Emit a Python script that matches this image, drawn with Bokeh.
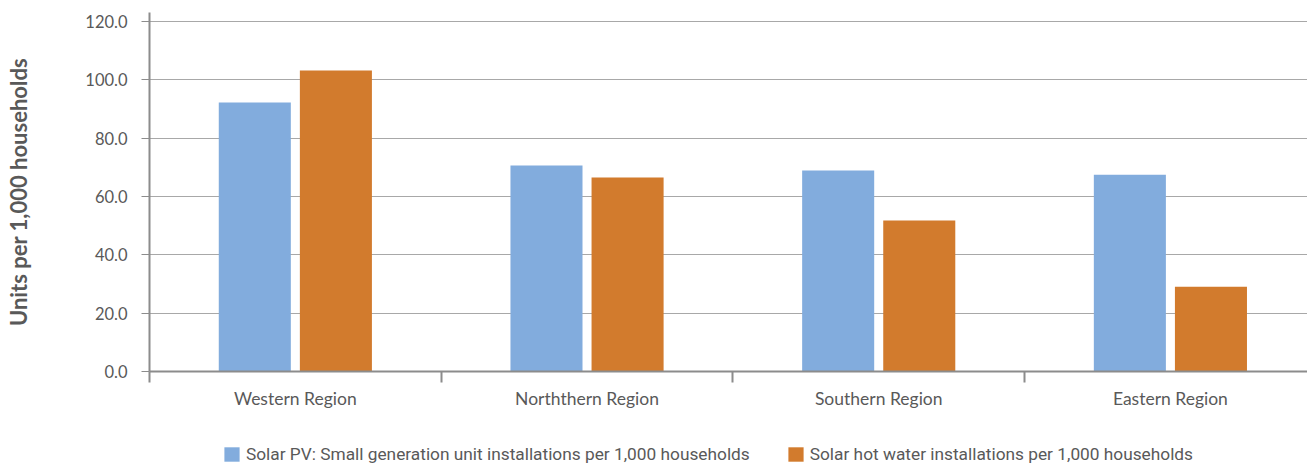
from bokeh.plotting import figure
from bokeh.layouts import column
from bokeh.models import (ColumnDataSource, Range1d, FixedTicker, Legend, LegendItem,
                          NumeralTickFormatter)
from bokeh.transform import dodge
from bokeh.embed import file_html
from bokeh.resources import INLINE

regions = ["Western Region", "Norththern Region", "Southern Region", "Eastern Region"]
solar_pv = [92.2, 70.6, 68.9, 67.5]
solar_hot_water = [103.2, 66.5, 51.8, 29.1]
series_names = ["Solar PV: Small generation unit installations per 1,000 households",
                "Solar hot water installations per 1,000 households"]
y_ticks = [0, 20, 40, 60, 80, 100, 120]

BLUE = "#82ACDD"
ORANGE = "#D27B2D"
TXT = "#595959"
FONT = "Lato"

centers = [i + 0.5 for i in range(len(regions))]
src = ColumnDataSource(dict(x=centers, pv=solar_pv, hw=solar_hot_water))

p = figure(width=1307, height=440, output_backend="svg", toolbar_location=None,
           x_range=Range1d(0, 3.97), y_range=Range1d(0, 123.1),
           min_border_left=149, min_border_right=0, min_border_top=12, min_border_bottom=69)
p.outline_line_color = None

p.vbar(x=dodge("x", -0.139, range=p.x_range), top="pv", width=0.247, source=src,
       fill_color=BLUE, line_color=None)
p.vbar(x=dodge("x", 0.139, range=p.x_range), top="hw", width=0.247, source=src,
       fill_color=ORANGE, line_color=None)

# x axis
xa = p.xaxis[0]
xa.ticker = FixedTicker(ticks=centers, minor_ticks=list(range(len(regions) + 1)))
xa.major_label_overrides = {c: r for c, r in zip(centers, regions)}
xa.major_tick_line_color = None
xa.major_tick_out = 0
xa.major_tick_in = 0
xa.minor_tick_line_color = "#8c8c8c"
xa.minor_tick_line_width = 2
xa.minor_tick_out = 11
xa.minor_tick_in = 0
xa.axis_line_color = "#8c8c8c"
xa.axis_line_width = 2
xa.major_label_text_font = FONT
xa.major_label_text_font_size = "17.5px"
xa.major_label_text_color = TXT
xa.major_label_standoff = 5

# y axis
ya = p.yaxis[0]
ya.ticker = FixedTicker(ticks=y_ticks, minor_ticks=[])
ya.formatter = NumeralTickFormatter(format="0.0")
ya.axis_line_color = "#8c8c8c"
ya.axis_line_width = 2
ya.major_tick_line_color = "#8c8c8c"
ya.major_tick_out = 8
ya.major_tick_in = 0
ya.minor_tick_line_color = None
ya.major_label_text_font = FONT
ya.major_label_text_font_size = "16.5px"
ya.major_label_text_color = TXT
ya.major_label_standoff = 14
ya.axis_label = "Units per 1,000 households"
ya.axis_label_text_font = FONT
ya.axis_label_text_font_style = "bold"
ya.axis_label_text_font_size = "22px"
ya.axis_label_text_color = TXT
ya.axis_label_standoff = 50

p.xgrid.grid_line_color = None
p.ygrid.ticker = FixedTicker(ticks=y_ticks)
p.ygrid.grid_line_color = "#a8a8a8"
p.ygrid.grid_line_width = 1

# legend strip (keys drawn by hidden bars outside the visible range)
lg = figure(width=1307, height=24, output_backend="svg", toolbar_location=None,
            x_range=Range1d(0, 1), y_range=Range1d(0, 1),
            min_border=0, x_axis_type=None, y_axis_type=None)
lg.outline_line_color = None
lg.grid.visible = False
hidden = ColumnDataSource(dict(x=[-10], y=[-10]))
k1 = lg.vbar(x="x", top="y", width=0.1, source=hidden, fill_color=BLUE, line_color=None)
k2 = lg.vbar(x="x", top="y", width=0.1, source=hidden, fill_color=ORANGE, line_color=None)
legend = Legend(items=[LegendItem(label=series_names[0], renderers=[k1]),
                       LegendItem(label=series_names[1], renderers=[k2])],
                orientation="horizontal", location=(73, 0),
                padding=0, margin=0, spacing=36, label_standoff=5,
                glyph_width=19, glyph_height=18, label_height=18,
                label_text_font="Roboto", label_text_font_size="17.3px",
                label_text_color=TXT, border_line_color=None, background_fill_alpha=0)
lg.add_layout(legend, "center")

open("out.html", "w").write(file_html(column(p, lg, spacing=0), INLINE))
